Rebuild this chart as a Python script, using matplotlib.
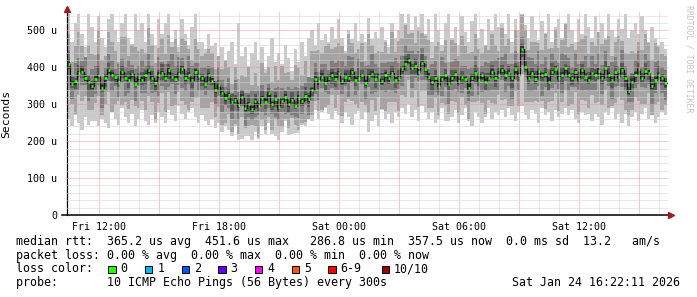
import numpy as np
import matplotlib
matplotlib.use("Agg")
import matplotlib.pyplot as plt
from matplotlib.patches import Rectangle

# time axis: hours since Fri 00:00, one sample every 10 minutes
start_hour = 10.42
step_hours = 1 / 6

# median rtt per sample (us)
median = [410, 355, 362, 385, 388, 372, 360, 350, 368, 378, 345, 372, 392, 380, 375, 360, 388, 372, 366, 382,
          355, 375, 365, 380, 392, 370, 358, 378, 385, 370, 392, 375, 368, 382, 395, 372, 380, 365, 388, 376,
          370, 355, 380, 362, 340, 352, 330, 318, 325, 305, 312, 298, 320, 290, 300, 288, 310, 295, 318, 305,
          330, 300, 315, 292, 308, 320, 302, 312, 296, 318, 310, 322, 315, 340, 368, 362, 375, 358, 372, 380,
          368, 385, 362, 375, 370, 388, 365, 372, 380, 358, 376, 382, 368, 375, 362, 378, 370, 385, 366, 372,
          395, 410, 420, 398, 405, 388, 412, 395, 375, 360, 372, 350, 368, 378, 355, 370, 382, 362, 375, 368,
          345, 372, 385, 365, 378, 360, 372, 388, 370, 380, 392, 378, 385, 370, 395, 380, 451, 400, 372, 385,
          368, 390, 378, 382, 360, 388, 395, 372, 380, 398, 380, 372, 388, 368, 392, 375, 365, 385, 378, 390,
          372, 398, 380, 365, 388, 375, 392, 370, 335, 360, 380, 395, 372, 390, 385, 350, 365, 380, 370, 357]

# slowest ping per sample (us)
ping_max = [545, 470, 520, 545, 490, 455, 545, 510, 470, 540, 480, 455, 530, 545, 500, 470, 520, 545, 480, 460,
            545, 500, 520, 470, 545, 490, 460, 530, 480, 520, 545, 470, 500, 455, 530, 490, 460, 510, 545, 470,
            470, 450, 490, 440, 465, 430, 455, 420, 445, 470, 410, 520, 430, 455, 400, 440, 470, 420, 455, 395,
            430, 480, 415, 440, 405, 460, 425, 390, 450, 415, 470, 430, 480, 500, 460, 520, 475, 490, 470, 510,
            455, 530, 480, 445, 500, 465, 520, 450, 490, 470, 535, 460, 495, 445, 510, 475, 455, 520, 480, 500,
            545, 520, 545, 500, 540, 510, 545, 490, 530, 470, 545, 500, 460, 520, 545, 480, 510, 460, 540, 495,
            470, 525, 545, 480, 505, 460, 530, 490, 545, 510, 520, 490, 545, 470, 530, 500, 545, 515, 480, 540,
            500, 465, 525, 490, 545, 470, 510, 530, 480, 520, 545, 500, 470, 530, 490, 545, 510, 470, 540, 495,
            520, 480, 545, 500, 470, 530, 505, 545, 480, 500, 520, 470, 540, 490, 465, 510, 480, 455, 470, 450]

# fastest ping per sample (us)
ping_min = [260, 240, 275, 250, 230, 265, 245, 285, 255, 240, 270, 250, 235, 280, 260, 245, 290, 265, 250, 275,
            240, 260, 285, 255, 245, 270, 250, 280, 265, 250, 285, 270, 255, 295, 275, 260, 280, 290, 265, 250,
            270, 255, 245, 260, 235, 250, 225, 240, 230, 215, 240, 220, 205, 235, 215, 245, 225, 210, 240, 220,
            250, 230, 215, 240, 225, 255, 235, 220, 245, 230, 250, 240, 260, 270, 285, 260, 280, 290, 275, 260,
            290, 270, 250, 280, 265, 245, 275, 290, 260, 280, 225, 255, 270, 240, 285, 260, 275, 250, 280, 265,
            290, 275, 300, 265, 285, 255, 295, 280, 260, 280, 250, 270, 290, 255, 275, 265, 285, 250, 270, 290,
            260, 240, 280, 265, 250, 275, 290, 260, 280, 270, 285, 265, 290, 270, 255, 280, 295, 270, 260, 285,
            275, 250, 290, 270, 280, 255, 285, 265, 275, 290, 270, 285, 260, 250, 280, 270, 290, 255, 275, 265,
            245, 280, 270, 290, 260, 275, 250, 285, 240, 265, 280, 255, 275, 290, 260, 270, 250, 265, 280, 270]

# distance of the inner pings above / below the median (us)
above_2 = [80, 60, 95, 110, 70, 55, 100, 85, 65, 120, 75, 60, 105, 90, 70, 55, 95, 110, 65, 80,
           100, 70, 85, 60, 115, 90, 55, 75, 105, 65, 95, 80, 110, 60, 85, 100, 70, 55, 90, 75,
           60, 85, 70, 95, 55, 80, 65, 100, 75, 50, 90, 70, 60, 85, 105, 65, 75, 55, 95, 80,
           70, 60, 90, 75, 100, 65, 85, 55, 110, 80, 70, 95, 60, 105, 75, 85, 65, 100, 90, 70,
           110, 80, 95, 65, 120, 90, 75, 100, 85, 60, 115, 95, 70, 105, 80, 90, 65, 110, 75, 100,
           85, 105, 70, 95, 60, 110, 80, 90, 100, 65, 85, 120, 75, 95, 60, 105, 85, 70, 110, 90,
           95, 70, 105, 85, 60, 100, 75, 110, 90, 65, 115, 80, 95, 70, 105, 60, 90, 100, 75, 85,
           100, 85, 70, 110, 90, 65, 105, 80, 95, 120, 75, 90, 60, 100, 85, 110, 70, 95, 80, 105,
           90, 75, 105, 65, 95, 110, 80, 70, 100, 85, 60, 95, 75, 110, 85, 70, 100, 80, 65, 75]
below_2 = [70, 55, 90, 60, 80, 50, 75, 95, 65, 55, 85, 70, 60, 100, 75, 50, 90, 65, 80, 70,
           60, 85, 55, 95, 70, 65, 100, 75, 55, 90, 60, 80, 70, 50, 85, 75, 95, 60, 70, 55,
           80, 65, 90, 55, 75, 60, 85, 70, 50, 80, 65, 95, 55, 75, 60, 85, 70, 90, 60, 75,
           65, 80, 55, 90, 70, 60, 85, 50, 75, 95, 65, 70, 55, 85, 60, 80, 90, 65, 75, 55,
           85, 60, 95, 70, 55, 80, 65, 90, 75, 60, 100, 70, 85, 55, 75, 95, 65, 80, 60, 90,
           70, 90, 55, 80, 65, 95, 75, 60, 85, 70, 55, 90, 65, 80, 100, 60, 75, 85, 55, 70,
           90, 65, 80, 55, 75, 95, 60, 85, 70, 55, 80, 65, 90, 75, 60, 85, 70, 95, 65, 80,
           60, 85, 70, 95, 55, 80, 65, 90, 75, 60, 85, 70, 55, 95, 80, 65, 90, 60, 75, 85,
           75, 60, 90, 70, 85, 55, 80, 95, 65, 75, 60, 85, 70, 90, 55, 80, 65, 75, 85, 60]
above_3 = [35, 25, 50, 40, 30, 55, 20, 45, 35, 60, 30, 25, 45, 40, 20, 50, 35, 30, 55, 25,
           40, 30, 55, 25, 45, 35, 20, 50, 30, 40, 25, 60, 35, 45, 30, 20, 50, 40, 25, 35,
           30, 45, 25, 40, 20, 50, 35, 30, 45, 25, 55, 35, 20, 40, 30, 50, 25, 45, 35, 30,
           25, 40, 30, 55, 35, 20, 45, 30, 50, 25, 40, 35, 60, 30, 45, 25, 35, 50, 20, 40,
           45, 35, 55, 30, 60, 40, 25, 50, 35, 45, 30, 55, 40, 25, 50, 35, 45, 30, 60, 40,
           35, 50, 25, 45, 30, 55, 40, 35, 20, 50, 45, 30, 60, 35, 25, 45, 40, 55, 30, 35,
           50, 30, 45, 35, 25, 55, 40, 30, 50, 45, 35, 60, 25, 40, 50, 35, 30, 45, 55, 40,
           40, 55, 30, 45, 35, 50, 25, 40, 60, 35, 45, 30, 50, 40, 25, 55, 35, 45, 30, 50,
           35, 45, 25, 50, 40, 30, 55, 35, 45, 25, 40, 50, 30, 45, 35, 25, 50, 40, 30, 35]
below_3 = [30, 40, 25, 45, 35, 20, 50, 30, 40, 25, 55, 35, 30, 45, 25, 40, 30, 50, 35, 25,
           45, 25, 35, 50, 30, 40, 25, 55, 35, 30, 45, 20, 40, 30, 50, 35, 25, 45, 30, 40,
           35, 30, 45, 25, 40, 30, 50, 20, 35, 45, 30, 40, 25, 50, 35, 30, 45, 25, 40, 35,
           40, 25, 50, 35, 30, 45, 25, 40, 30, 55, 35, 25, 45, 30, 40, 50, 30, 25, 45, 35,
           30, 45, 35, 25, 50, 30, 40, 35, 25, 45, 30, 55, 35, 40, 25, 45, 30, 50, 35, 30,
           45, 30, 40, 55, 35, 25, 45, 30, 50, 35, 40, 25, 45, 30, 55, 35, 40, 30, 45, 25,
           35, 50, 30, 40, 45, 25, 35, 50, 30, 40, 25, 45, 35, 55, 30, 40, 45, 25, 35, 50,
           30, 40, 55, 35, 25, 45, 40, 30, 50, 35, 45, 25, 40, 30, 55, 35, 30, 45, 40, 25,
           45, 35, 30, 50, 40, 25, 45, 35, 30, 55, 35, 40, 25, 45, 30, 50, 35, 25, 40, 45]
above_4 = [12, 18, 8, 22, 15, 10, 20, 14, 9, 25, 16, 11, 19, 13, 8, 21, 15, 12, 24, 10,
           17, 9, 22, 14, 11, 19, 8, 16, 23, 12, 18, 10, 15, 21, 9, 14, 20, 13, 8, 17,
           11, 20, 15, 9, 24, 13, 18, 10, 16, 22, 12, 8, 19, 14, 25, 11, 17, 9, 21, 15,
           14, 10, 19, 23, 12, 16, 9, 21, 13, 18, 11, 24, 15, 8, 20, 13, 17, 22, 10, 16,
           19, 13, 8, 17, 22, 11, 15, 25, 12, 9, 20, 14, 18, 10, 23, 16, 12, 19, 9, 21,
           10, 22, 16, 12, 19, 8, 24, 14, 11, 18, 21, 13, 9, 17, 15, 23, 10, 20, 14, 12,
           16, 11, 21, 14, 9, 25, 13, 18, 10, 22, 15, 12, 20, 8, 17, 24, 11, 16, 19, 13,
           21, 15, 10, 18, 13, 23, 9, 16, 20, 12, 25, 14, 11, 19, 16, 10, 22, 13, 17, 9,
           13, 19, 24, 11, 16, 9, 20, 15, 12, 22, 10, 17, 14, 21, 8, 18, 13, 23, 11, 15]
below_4 = [15, 10, 20, 12, 18, 9, 23, 14, 11, 19, 13, 25, 10, 16, 21, 12, 17, 8, 22, 14,
           11, 19, 13, 24, 9, 16, 21, 12, 18, 10, 23, 15, 8, 20, 14, 17, 11, 22, 13, 19,
           20, 12, 17, 10, 22, 15, 9, 19, 13, 24, 11, 16, 21, 9, 18, 14, 23, 12, 10, 17,
           9, 16, 22, 13, 19, 11, 25, 14, 10, 20, 15, 12, 23, 17, 9, 21, 13, 18, 11, 24,
           22, 14, 11, 19, 9, 24, 16, 12, 21, 13, 17, 10, 25, 15, 11, 20, 14, 9, 23, 16,
           13, 21, 9, 17, 23, 12, 15, 20, 10, 24, 14, 18, 11, 22, 16, 9, 19, 13, 21, 10,
           18, 10, 24, 15, 12, 21, 9, 17, 23, 11, 19, 14, 10, 25, 13, 16, 22, 12, 18, 15,
           12, 23, 16, 9, 20, 14, 18, 11, 25, 15, 10, 21, 17, 13, 24, 12, 9, 19, 14, 22,
           16, 9, 19, 22, 11, 18, 13, 24, 10, 17, 21, 12, 15, 9, 20, 14, 25, 11, 18, 13]
above_5 = [5, 8, 3, 6, 9, 4, 7, 5, 10, 3, 6, 8, 4, 7, 5, 9, 3, 6, 8, 4,
           7, 4, 9, 5, 3, 8, 6, 10, 4, 7, 5, 3, 9, 6, 8, 4, 7, 5, 10, 3,
           6, 9, 4, 8, 5, 3, 7, 10, 6, 4, 8, 5, 9, 3, 7, 6, 4, 8, 5, 9,
           4, 7, 10, 3, 6, 8, 5, 9, 4, 7, 3, 6, 10, 5, 8, 4, 9, 6, 3, 7,
           8, 5, 3, 9, 7, 4, 10, 6, 3, 8, 5, 9, 4, 7, 6, 10, 3, 5, 8, 6,
           3, 10, 6, 4, 8, 7, 5, 3, 9, 6, 4, 10, 7, 5, 3, 8, 6, 9, 4, 7,
           9, 6, 5, 8, 4, 10, 3, 7, 6, 9, 5, 4, 8, 3, 10, 6, 7, 4, 9, 5,
           5, 3, 8, 6, 10, 5, 9, 4, 7, 3, 8, 6, 5, 10, 4, 7, 9, 3, 6, 8,
           10, 4, 7, 5, 3, 9, 6, 8, 5, 10, 7, 3, 6, 4, 9, 5, 8, 7, 3, 6]
below_5 = [6, 4, 9, 3, 7, 10, 5, 8, 4, 6, 3, 9, 7, 5, 10, 4, 8, 6, 3, 7,
           4, 8, 5, 9, 6, 3, 10, 7, 5, 4, 9, 6, 3, 8, 5, 10, 4, 7, 6, 9,
           8, 3, 7, 5, 10, 6, 4, 9, 3, 7, 5, 8, 6, 10, 4, 3, 9, 5, 7, 4,
           10, 6, 4, 8, 3, 7, 9, 5, 6, 3, 10, 4, 8, 7, 5, 9, 3, 6, 10, 5,
           3, 9, 7, 4, 10, 5, 8, 3, 6, 9, 4, 7, 5, 3, 8, 6, 10, 4, 7, 9,
           7, 5, 10, 6, 4, 9, 3, 8, 5, 7, 10, 3, 6, 9, 4, 7, 5, 8, 3, 6,
           5, 10, 3, 7, 9, 4, 6, 5, 8, 3, 7, 10, 4, 6, 9, 5, 3, 8, 6, 4,
           9, 7, 6, 10, 5, 8, 4, 6, 3, 9, 5, 8, 10, 4, 7, 3, 6, 9, 5, 8,
           4, 6, 8, 3, 9, 7, 5, 10, 6, 4, 8, 5, 3, 7, 6, 9, 4, 5, 8, 10]

tick_hours = [12, 18, 24, 30, 36]
tick_labels = ["Fri 12:00", "Fri 18:00", "Sat 00:00", "Sat 06:00", "Sat 12:00"]
y_ticks = [0, 100, 200, 300, 400, 500]
y_labels = ["0", "100 u", "200 u", "300 u", "400 u", "500 u"]

loss_labels = ["0", "1", "2", "3", "4", "5", "6-9", "10/10"]
loss_colors = ["#26ff00", "#00b8ff", "#0059ff", "#5e00ff", "#ff00ff", "#ff5500", "#ff0000", "#a10000"]
smoke_colors = ["#cacaca", "#a4a4a4", "#7e7e7e", "#585858", "#323232"]

mono = "DejaVu Sans Mono"
W, H = 697, 297

fig = plt.figure(figsize=(W / 100, H / 100), dpi=100)
fig.patch.set_facecolor("white")
ax = fig.add_axes([67 / W, 82 / H, 601 / W, 203 / H])

med = np.array(median, dtype=float)
t = start_hour + np.arange(len(med)) * step_hours
pings = np.vstack([
    ping_min, med - np.array(below_2), med - np.array(below_3), med - np.array(below_4), med - np.array(below_5),
    med + np.array(above_5), med + np.array(above_4), med + np.array(above_3), med + np.array(above_2), ping_max,
]).astype(float)
pings = np.sort(pings, axis=0)

# extend one step so the last sample gets its width
tx = np.append(t, t[-1] + step_hours)
ext = lambda a: np.append(a, a[-1])

for k, c in enumerate(smoke_colors):
    ax.fill_between(tx, ext(pings[k]), ext(pings[9 - k]), step="post",
                    color=c, lw=0, antialiased=False, zorder=2)

# median: dark step line with a green (0 loss) dash on each sample
ax.step(tx, ext(med), where="post", color="#141414", lw=0.9, zorder=3)
ax.hlines(med, t + 0.15 * step_hours, t + 0.85 * step_hours, color=loss_colors[0], lw=2.0, zorder=4)

# dotted grid on top of the smoke
dots = (0, (1, 1))
for h in range(11, 41):
    ax.axvline(h, color="#e89a9a" if h % 3 == 0 else "#d2d2d2", lw=0.72, ls=dots, zorder=5)
for v in range(20, 560, 20):
    ax.axhline(v, color="#e89a9a" if v % 100 == 0 else "#d2d2d2", lw=0.72, ls=dots, zorder=5)

ax.set_xlim(start_hour, start_hour + 601 / 20)
ax.set_ylim(0, 550)
ax.set_facecolor("white")

for s in ["top", "right"]:
    ax.spines[s].set_visible(False)
ax.spines["left"].set_color("black")
ax.spines["left"].set_linewidth(0.9)
ax.spines["bottom"].set_visible(False)
ax.plot([-5 / 601, 1.0], [0, 0], transform=ax.transAxes, color="black", lw=1.1, clip_on=False, zorder=6)
ax.plot([1 + 3 / 601], [0], marker=">", ms=4.5, color="#9b1c1c", transform=ax.transAxes, clip_on=False, zorder=7)
ax.plot([0], [1 + 3 / 203], marker="^", ms=4.5, color="#9b1c1c", transform=ax.transAxes, clip_on=False, zorder=7)

ax.set_xticks(tick_hours)
ax.set_xticklabels(tick_labels, family=mono, fontsize=7.2)
ax.set_yticks(y_ticks)
ax.set_yticklabels(y_labels, family=mono, fontsize=7.2)
ax.tick_params(axis="x", length=0, pad=5)
ax.tick_params(axis="y", length=0, pad=7)

ax.set_ylabel("Seconds", family=mono, fontsize=8.2)
ax.yaxis.set_label_coords(-56 / 601, 0.5)

fig.text(689 / W, 1 - 5 / H, "RRDTOOL / TOBI OETIKER", rotation=270, family=mono, fontsize=5.9,
         color="#c4c4c4", ha="center", va="top")

rows = [
    "median rtt:  365.2 us avg  451.6 us max   286.8 us min  357.5 us now  0.0 ms sd  13.2   am/s",
    "packet loss: 0.00 % avg  0.00 % max  0.00 % min  0.00 % now",
    "loss color:",
    "probe:       10 ICMP Echo Pings (56 Bytes) every 300s",
]
row_y = [241, 255, 269, 282.5]
for txt, y in zip(rows, row_y):
    fig.text(16 / W, 1 - y / H, txt, family=mono, fontsize=8.4, va="center", ha="left")
fig.text(680 / W, 1 - 282.5 / H, "Sat Jan 24 16:22:11 2026", family=mono, fontsize=8.4, va="center", ha="right")

sq_x = [108.3, 145.0, 181.7, 218.3, 255.0, 291.7, 328.3, 381.7]
for x, lab, col in zip(sq_x, loss_labels, loss_colors):
    fig.patches.append(Rectangle((x / W, 1 - 273.3 / H), 7.3 / W, 7.3 / H, transform=fig.transFigure,
                                 facecolor=col, edgecolor="black", lw=0.7))
    fig.text((x + 12.4) / W, 1 - 269 / H, lab, family=mono, fontsize=8.4, va="center", ha="left")

fig.savefig("out.png", dpi=100)
